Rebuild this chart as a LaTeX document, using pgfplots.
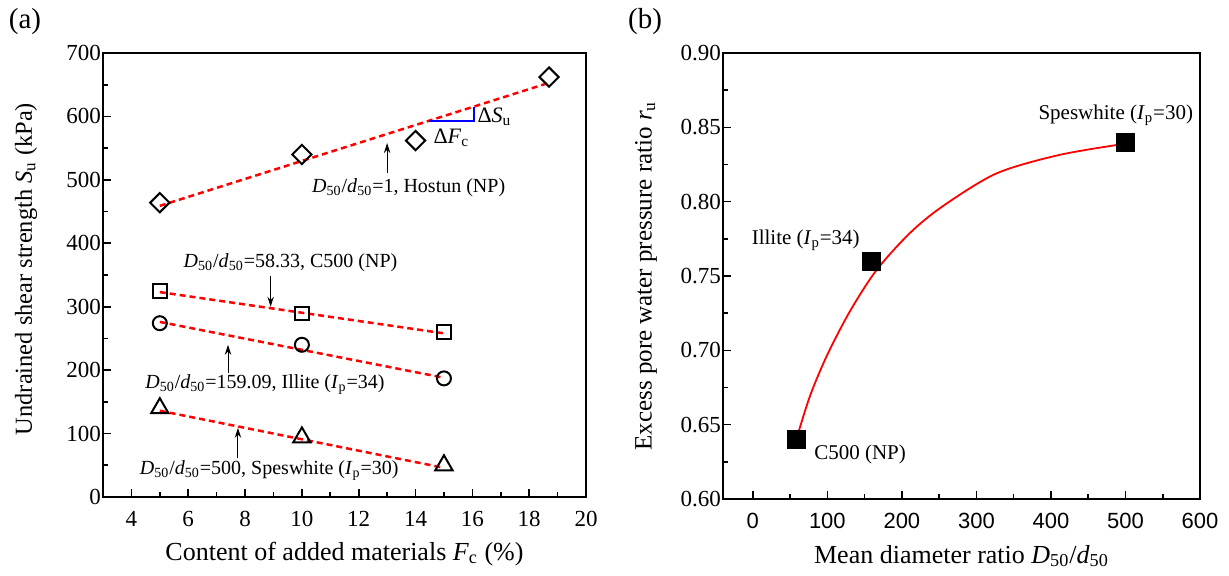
\documentclass[border=0pt]{standalone}
\usepackage{pgfplots}
\pgfplotsset{compat=1.18}
\usepackage{fontspec}
\setmainfont{Liberation Serif}
\newfontfamily\sansfont{Liberation Sans}
\usetikzlibrary{arrows.meta}
\newcommand{\sub}[1]{\textsubscript{#1}}
\newcommand{\Dd}{\textit{D}\sub{50}/\textit{d}\sub{50}}
\tikzset{
  fitline/.style={red, line width=1.25pt, dash pattern=on 3pt off 2pt},
  arr/.style={-{Stealth[length=5pt,width=3.2pt]}, line width=0.5pt},
  ann/.style={font=\fontsize{10}{10}\selectfont},
}
\begin{document}
\begin{tikzpicture}
\useasboundingbox (0,0) rectangle (614.5pt,288pt);
\pgfplotsset{
  common/.style={
    scale only axis, anchor=south west, clip=false,
    tick pos=left, major tick length=4pt, minor tick length=2.5pt,
    every tick/.style={black, line width=0.8pt},
    axis line style={line width=1pt},
    /pgf/number format/assume math mode=true,
    tick label style={font=\fontsize{11.5}{11.5}\selectfont},
    xticklabel style={yshift=-3.5pt},
    yticklabel style={xshift=2.5pt},
    label style={font=\fontsize{13}{13}\selectfont},
    xlabel style={at={(axis description cs:0.5,0)}, anchor=center, yshift=-28.5pt},
  },
}
\begin{axis}[common,
  at={(51.5pt,39.5pt)}, width=241.5pt, height=222pt,
  xmin=3, xmax=20, ymin=0, ymax=700,
  xtick={4,6,...,20}, minor xtick={5,7,...,19},
  ytick={0,100,...,700}, minor ytick={50,150,...,650},
  xlabel={Content of added materials \textit{F}\sub{c} (\%)},
  ylabel={Undrained shear strength \textit{S}\sub{u} (kPa)},
  ylabel style={at={(axis description cs:0,0.5)}, anchor=center, yshift=38.5pt, xshift=3pt, font=\fontsize{12.2}{12.2}\selectfont},
]
% fitted lines
\addplot[fitline] coordinates {(5,459) (18.7,653)};
\addplot[fitline] coordinates {(5,323) (15,258)};
\addplot[fitline] coordinates {(5,276) (15,188)};
\addplot[fitline] coordinates {(5,136) (15,46)};
% data
\addplot[only marks, mark=square, mark size=3.4pt, mark options={rotate=45, line width=1pt}, black]
  coordinates {(5,464) (10,540) (14,562) (18.7,662)};
\addplot[only marks, mark=square, mark size=3.4pt, mark options={line width=1pt}, black]
  coordinates {(5,325) (10,289) (15,260)};
\addplot[only marks, mark=o, mark size=3.5pt, mark options={line width=1pt}, black]
  coordinates {(5,274) (10,240) (15,187)};
\addplot[only marks, mark=triangle, mark size=5pt, mark options={line width=1pt}, black]
  coordinates {(5,140) (10,94) (15,50)};
% slope triangle
\draw[blue, line width=1pt] (axis cs:14.48,593) -- (axis cs:16.05,593) -- (axis cs:16.05,615);
\node[font=\fontsize{11}{11}\selectfont, anchor=west, inner sep=1pt] at (axis cs:16.1,599) {Δ\textit{S}\sub{u}};
\node[font=\fontsize{11}{11}\selectfont, inner sep=1pt] at (axis cs:15.26,566) {Δ\textit{F}\sub{c}};
% annotations
\node[ann] at (axis cs:13.76,487) {\Dd=1, Hostun (NP)};
\draw[arr] (axis cs:13.0,511) -- (axis cs:13.0,558);
\node[ann] at (axis cs:9.6,369) {\Dd=58.33, C500 (NP)};
\draw[arr] (axis cs:8.9,349) -- (axis cs:8.9,300);
\node[ann] at (axis cs:8.7,177) {\Dd=159.09, Illite (\textit{I}\sub{p}=34)};
\draw[arr] (axis cs:7.4,196) -- (axis cs:7.4,240);
\node[ann] at (axis cs:8.85,41) {\Dd=500, Speswhite (\textit{I}\sub{p}=30)};
\draw[arr] (axis cs:7.75,61) -- (axis cs:7.75,109);
\end{axis}

\begin{axis}[common,
  at={(361.5pt,38.5pt)}, width=238.5pt, height=223pt,
  xmin=-40, xmax=600, ymin=0.6, ymax=0.9,
  xtick={0,100,...,600}, minor xtick={50,150,...,550},
  ytick={0.60,0.65,0.70,0.75,0.80,0.85,0.90},
  minor ytick={0.625,0.675,0.725,0.775,0.825,0.875},
  yticklabel style={/pgf/number format/.cd, fixed, fixed zerofill, precision=2},
  xticklabel style={font=\sansfont\fontsize{11}{11}\selectfont},
  xlabel={Mean diameter ratio \Dd},
  ylabel={Excess pore water pressure ratio \textit{r}\sub{u}},
  ylabel style={at={(axis description cs:0,0.5)}, anchor=center, yshift=38.5pt, font=\fontsize{12.5}{12.5}\selectfont},
]
\addplot[red, line width=0.9pt, smooth] coordinates {
  (58.33,0.640) (76.5,0.669) (99,0.696) (130,0.726) (166,0.754) (211,0.779)
  (255,0.797) (327,0.819) (412,0.8315) (500,0.839)};
\addplot[only marks, mark=square*, mark size=4.4pt, black]
  coordinates {(58.33,0.64) (159.09,0.76) (500,0.84)};
\node[font=\fontsize{10.5}{10.5}\selectfont] at (axis cs:487,0.858) {Speswhite (\textit{I}\sub{p}=30)};
\node[font=\fontsize{10.5}{10.5}\selectfont] at (axis cs:71,0.774) {Illite (\textit{I}\sub{p}=34)};
\node[font=\fontsize{10.5}{10.5}\selectfont] at (axis cs:144,0.630) {C500 (NP)};
\end{axis}
\node[font=\fontsize{14.5}{14.5}\selectfont] at (12.5pt,277pt) {(a)};
\node[font=\fontsize{14.5}{14.5}\selectfont] at (322.5pt,277pt) {(b)};
\end{tikzpicture}
\end{document}
